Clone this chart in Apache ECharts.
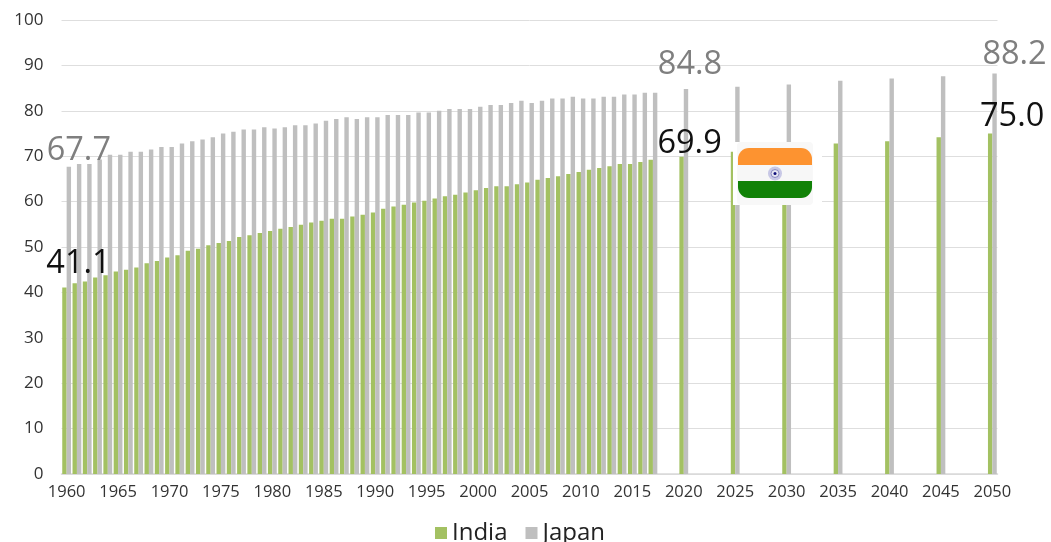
<!DOCTYPE html>
<html><head><meta charset="utf-8">
<style>html,body{margin:0;padding:0;background:#fff;overflow:hidden}#c{width:1051px;height:542px}</style>
<script src="https://cdn.jsdelivr.net/npm/echarts@6/dist/echarts.min.js"></script>
</head><body><div id="c"></div>
<script>
const firstYear = 1960, lastYear = 2050;
const indiaHistory = [41.1,42.0,42.4,43.3,43.8,44.6,45.0,45.5,46.4,46.9,47.7,48.2,49.2,49.6,50.4,50.9,51.3,52.2,52.6,53.1,53.5,54.0,54.4,54.9,55.4,55.8,56.2,56.2,56.7,57.1,57.6,58.4,58.9,59.3,59.8,60.2,60.7,61.2,61.5,62.0,62.5,63.0,63.4,63.4,63.8,64.2,64.8,65.2,65.6,66.1,66.5,67.0,67.4,67.8,68.3,68.3,68.7,69.2];
const japanHistory = [67.7,68.3,68.3,69.3,70.3,70.3,71.0,71.0,71.5,72.0,72.0,72.8,73.3,73.7,74.2,75.0,75.4,75.9,75.9,76.4,76.1,76.4,76.8,76.8,77.2,77.8,78.2,78.6,78.2,78.6,78.6,79.1,79.1,79.1,79.6,79.6,80.0,80.4,80.4,80.4,80.9,81.3,81.3,81.7,82.2,81.7,82.2,82.7,82.7,83.1,82.7,82.7,83.1,83.1,83.6,83.6,84.0,84.0];
const projectionYears = [2020,2025,2030,2035,2040,2045,2050];
const indiaProjection = [69.9,71.0,72.0,72.8,73.3,74.2,75.0];
const japanProjection = [84.8,85.3,85.8,86.6,87.1,87.6,88.2];

const categories = [];
for (let y = firstYear; y <= lastYear; y++) categories.push(String(y));
function build(history, projection, labels) {
  return categories.map((c, i) => {
    const y = +c;
    let v = null;
    if (i < history.length) v = history[i];
    const p = projectionYears.indexOf(y);
    if (p >= 0) v = projection[p];
    if (labels[c]) return { value: v, label: labels[c] };
    return v;
  });
}
const lab = (color, dx, dy) => ({ show: true, position: 'top', color, fontSize: 32.5, fontFamily: 'Open Sans', offset: [dx, dy], formatter: p => p.value.toFixed(1) });
const grey = '#7f7f7f', black = '#111111';
const indiaData = build(indiaHistory, indiaProjection, {
  '1960': lab(black, 14, -2), '2020': lab(black, 8, 9), '2050': lab(black, 22, 5)
});
const japanData = build(japanHistory, japanProjection, {
  '1960': lab(grey, 10, 6), '2020': lab(grey, 4, -3), '2050': lab(grey, 20, 3)
});

const chart = echarts.init(document.getElementById('c'));
chart.setOption({
  animation: false,
  textStyle: { fontFamily: 'Open Sans' },
  grid: { left: 61.5, right: 53.5, top: 20, bottom: 68 },
  legend: {
    left: 430, top: 516, itemWidth: 12, itemHeight: 12, itemGap: 18,
    icon: 'rect',
    textStyle: { fontSize: 24, color: '#222', padding: [0, 0, 14, 0] },
    data: ['India', 'Japan']
  },
  xAxis: {
    type: 'category', data: categories,
    axisTick: { show: false },
    axisLine: { lineStyle: { color: '#d9d9d9', width: 1.5 } },
    axisLabel: { interval: 4, fontSize: 16.5, color: '#333', margin: 10 }
  },
  yAxis: {
    type: 'value', min: 0, max: 100, interval: 10,
    axisLine: { show: false }, axisTick: { show: false },
    splitLine: { lineStyle: { color: '#dedede', width: 1 } },
    axisLabel: { fontSize: 17, color: '#333', margin: 18 }
  },
  series: [
    { name: 'India', type: 'bar', data: indiaData, barWidth: 4.4, barGap: '0%', itemStyle: { color: '#a3c162' }, z: 2 },
    { name: 'Japan', type: 'bar', data: japanData, barWidth: 4.4, barGap: '0%', itemStyle: { color: '#bfbfbf' }, z: 2 }
  ],
  graphic: { elements: [
    { type: 'rect', z: 50, shape: { x: 733, y: 142, width: 89, height: 63 }, style: { fill: '#ffffff' } },
    { type: 'rect', z: 51, shape: { x: 737, y: 142, width: 76, height: 63, r: 4 }, style: { fill: '#f8f8f8' } },
    { type: 'rect', z: 52, shape: { x: 738, y: 148, width: 74, height: 50, r: 11 }, style: { fill: '#f7f7f7' } },
    { type: 'rect', z: 53, shape: { x: 738, y: 148, width: 74, height: 17, r: [11, 11, 0, 0] }, style: { fill: '#fd9330' } },
    { type: 'rect', z: 53, shape: { x: 738, y: 181, width: 74, height: 17, r: [0, 0, 11, 11] }, style: { fill: '#118207' } },
    { type: 'circle', z: 54, shape: { cx: 775, cy: 173.5, r: 7 }, style: { fill: '#c8c8e6' } },
    { type: 'circle', z: 55, shape: { cx: 775, cy: 173.5, r: 4 }, style: { fill: '#e6e6f2', stroke: '#8a8ac0', lineWidth: 1 } },
    { type: 'circle', z: 56, shape: { cx: 775, cy: 173.5, r: 1.5 }, style: { fill: '#10107a' } }
  ] }
});
</script></body></html>
